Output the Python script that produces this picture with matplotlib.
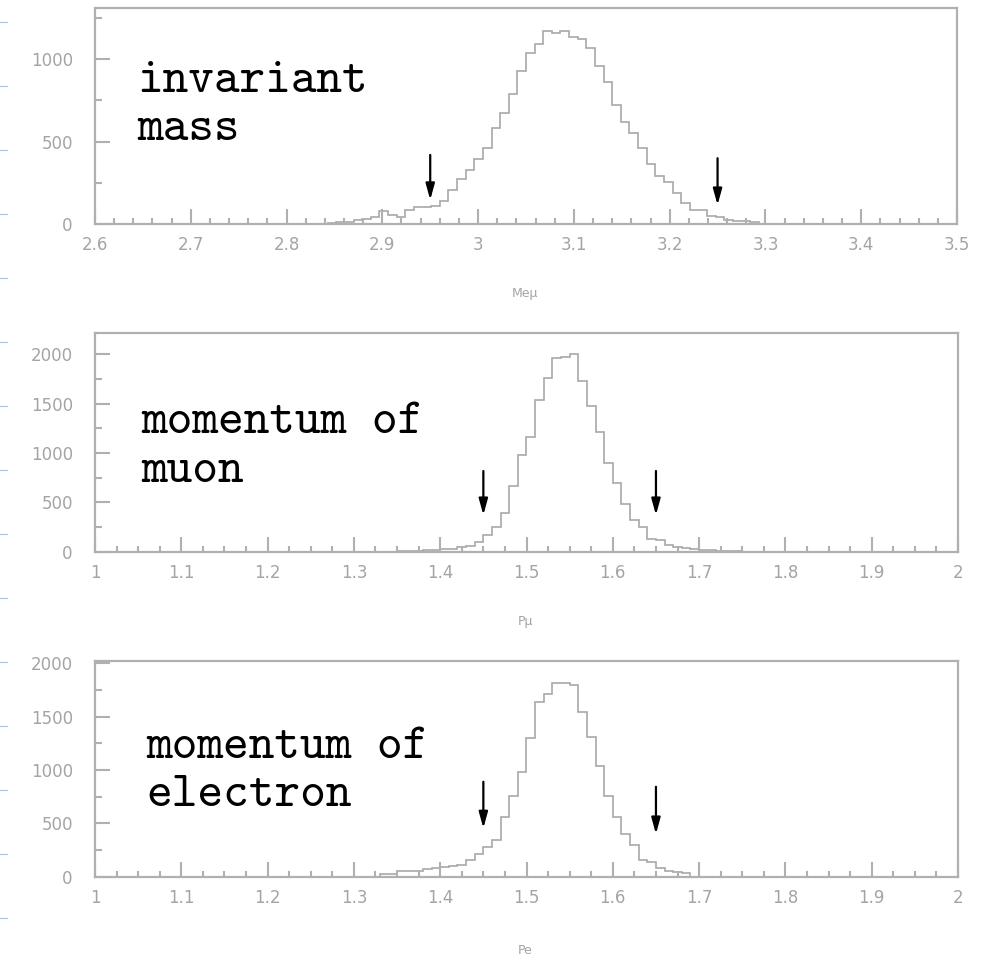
import numpy as np
import matplotlib
matplotlib.use("Agg")
import matplotlib.pyplot as plt
from matplotlib.lines import Line2D

# histogram contents (100 bins per panel)
mass_range = (2.6, 3.5)
mass_counts = [0] * 27 + [
    8, 12, 15, 25, 30, 45, 79, 55, 45, 85, 105, 105, 110,
    140, 206, 273, 328, 393, 463, 585, 676, 787, 929,
    1036, 1091, 1172, 1158, 1172, 1137, 1121, 1067, 959, 864,
    723, 617, 551, 463, 362, 293, 257, 186, 125, 85,
    85, 49, 40, 24, 18, 18, 14] + [0] * 23

pmu_range = (1.0, 2.0)
pmu_counts = [0] * 35 + [
    5, 8, 12, 15, 20, 25, 30, 44, 57, 101,
    169, 253, 395, 665, 978, 1157, 1535, 1761, 1964, 1974,
    1997, 1727, 1474, 1215, 901, 698, 479, 320, 253, 125,
    118, 67, 51, 34, 24, 20, 15, 12, 10, 8] + [0] * 25

pe_range = (1.0, 2.0)
pe_counts = [0] * 33 + [
    22, 25, 55, 56, 58, 76, 78, 95, 97, 109,
    156, 212, 275, 344, 556, 753, 978, 1300, 1634, 1712,
    1815, 1815, 1796, 1546, 1306, 1040, 753, 562, 400, 300,
    159, 134, 81, 56, 41, 31] + [0] * 31

# cut positions (arrows) and the arrow extent in counts
mass_cuts = [2.95, 3.25]
mass_arrow_top = [419, 399]
mass_arrow_tip = [146, 115]
pmu_cuts = [1.45, 1.65]
pmu_arrow_top = [817, 817]
pmu_arrow_tip = [371, 371]
pe_cuts = [1.45, 1.65]
pe_arrow_top = [890, 843]
pe_arrow_tip = [454, 400]

titles = [["invariant", "mass"], ["momentum of", "muon"], ["momentum of", "electron"]]
xlabels = ["Me\u03bc", "P\u03bc", "Pe"]

W, H = 987, 958
GRAY = "#b0b0b0"
TXT = "#a4a4a4"

fig = plt.figure(figsize=(W / 100, H / 100), dpi=100)


def px_rect(left, top, right, bottom):
    return [left / W, 1 - bottom / H, (right - left) / W, (bottom - top) / H]


def draw_panel(rect, counts, xr, ymax, xmajor, xminor, cuts, tops, tips):
    ax = fig.add_axes(rect)
    edges = np.linspace(xr[0], xr[1], len(counts) + 1)
    ax.stairs(counts, edges, color="#a8a8a8", lw=1.2, baseline=None)
    ax.set_xlim(*xr)
    ax.set_ylim(0, ymax)
    ax.set_xticks(np.arange(xr[0], xr[1] + 1e-9, xmajor))
    ax.set_xticks(np.arange(xr[0], xr[1] + 1e-9, xminor), minor=True)
    ax.set_yticks(np.arange(0, ymax, 500))
    ax.set_yticks(np.arange(0, ymax, 250), minor=True)
    ax.xaxis.set_major_formatter(lambda v, p: f"{v:g}")
    for s in ax.spines.values():
        s.set_color(GRAY)
        s.set_linewidth(1.6)
    ax.tick_params(which="both", direction="in", color=GRAY, width=1.5,
                   labelcolor=TXT, labelsize=12)
    ax.tick_params(axis="y", which="major", length=11, pad=16)
    ax.tick_params(axis="y", which="minor", length=5)
    ax.tick_params(axis="x", which="major", length=10.5, pad=9)
    ax.tick_params(axis="x", which="minor", length=4)
    ax.tick_params(top=False, right=False, which="both")
    for x, t0, t1 in zip(cuts, tops, tips):
        ax.annotate("", xy=(x, t1), xytext=(x, t0),
                    arrowprops=dict(arrowstyle="-|>,head_length=0.8,head_width=0.22",
                                    color="black", lw=1.6, mutation_scale=12,
                                    shrinkA=0, shrinkB=0))
    return ax


draw_panel(px_rect(95, 8, 957, 224), mass_counts, mass_range, 1310, 0.1, 0.02,
           mass_cuts, mass_arrow_top, mass_arrow_tip)
draw_panel(px_rect(95, 332.7, 958, 551.7), pmu_counts, pmu_range, 2217, 0.1, 0.025,
           pmu_cuts, pmu_arrow_top, pmu_arrow_tip)
draw_panel(px_rect(95, 660.7, 958, 876.7), pe_counts, pe_range, 2025, 0.1, 0.025,
           pe_cuts, pe_arrow_top, pe_arrow_tip)

# panel captions in a typewriter face
caption_pos = [(137, 91.7, 140), (141, 433, 481.7), (146, 757.7, 805.7)]
for (x, b1, b2), lines in zip(caption_pos, titles):
    fig.text(x / W, 1 - b1 / H, lines[0], family="cmtt10", fontsize=35.2,
             va="baseline", ha="left", color="black")
    fig.text(x / W, 1 - b2 / H, lines[1], family="cmtt10", fontsize=35.2,
             va="baseline", ha="left", color="black")

# axis names under each panel
for lab, y in zip(xlabels, [293, 622, 950]):
    fig.text(525 / W, 1 - y / H, lab, fontsize=9, color=TXT, ha="center", va="center")

# faint blue dashes along the left edge
for i in range(15):
    y = 1 - (21.7 + 64.05 * i) / H
    for x0, x1 in [(0, 2.7), (4, 7.3)]:
        fig.add_artist(Line2D([x0 / W, x1 / W], [y, y], color="#b4c0ee", lw=0.8))

fig.savefig("out.png", dpi=100)
